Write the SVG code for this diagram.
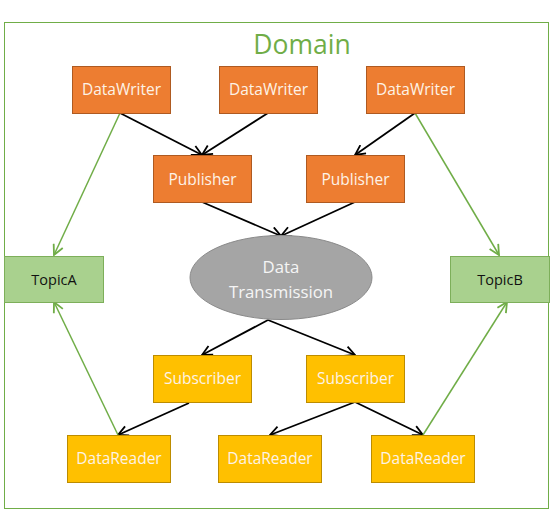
<svg xmlns="http://www.w3.org/2000/svg" width="554" height="524" viewBox="0 0 554 524">
<defs>
<marker id="ab" viewBox="0 0 12 12" refX="11" refY="6" markerWidth="12" markerHeight="12" markerUnits="userSpaceOnUse" orient="auto">
<path d="M1,1 L11,6 L1,11" fill="none" stroke="#000" stroke-width="1.8"/>
</marker>
<marker id="ag" viewBox="0 0 12 12" refX="11" refY="6" markerWidth="12" markerHeight="12" markerUnits="userSpaceOnUse" orient="auto">
<path d="M1,1 L11,6 L1,11" fill="none" stroke="#70AD47" stroke-width="1.8"/>
</marker>
<style>
.w rect{fill:#ED7D31;stroke:#AE5A21;stroke-width:1}
.s rect{fill:#FFC000;stroke:#BC8C00;stroke-width:1}
.t rect{fill:#A9D18E;stroke:#7DAF5A;stroke-width:1}
text{font-family:"Open Sans","Liberation Sans",sans-serif;font-size:15.5px;text-anchor:middle}
.w text,.s text{fill:#FDF3E7}
.t text{fill:#111;font-size:14.5px}
.b{stroke:#000;stroke-width:1.8;fill:none;marker-end:url(#ab)}
.g{stroke:#70AD47;stroke-width:1.5;fill:none;marker-end:url(#ag)}
</style>
</defs>
<rect width="554" height="524" fill="#fff"/>
<g id="domain">
<rect x="4.5" y="22.5" width="544" height="486" fill="none" stroke="#70AD47" stroke-width="1"/>
<text x="302" y="54" style="font-size:26.5px;fill:#70AD47">Domain</text>
</g>
<g id="connectors">
<line class="b" x1="120" y1="113" x2="202" y2="155"/>
<line class="b" x1="268" y1="113" x2="202" y2="155"/>
<line class="b" x1="415" y1="113" x2="355" y2="155"/>
<line class="b" x1="202" y1="202" x2="281" y2="236"/>
<line class="b" x1="355" y1="202" x2="281" y2="236"/>
<line class="b" x1="268" y1="320" x2="202" y2="355"/>
<line class="b" x1="268" y1="320" x2="355" y2="355"/>
<line class="b" x1="189" y1="403" x2="118" y2="435"/>
<line class="b" x1="355" y1="402" x2="270" y2="435"/>
<line class="b" x1="355" y1="402" x2="423" y2="435"/>
<line class="g" x1="120" y1="113" x2="54" y2="255"/>
<line class="g" x1="118" y1="435" x2="54" y2="302"/>
<line class="g" x1="415" y1="113" x2="499" y2="255"/>
<line class="g" x1="423" y1="435" x2="507" y2="302"/>
</g>
<g id="dw1" class="w"><rect x="72.5" y="66.5" width="98" height="47"/><text x="121.5" y="95">DataWriter</text></g>
<g id="dw2" class="w"><rect x="219.5" y="66.5" width="98" height="47"/><text x="268.5" y="95">DataWriter</text></g>
<g id="dw3" class="w"><rect x="366.5" y="66.5" width="98" height="47"/><text x="415.5" y="95">DataWriter</text></g>
<g id="pub1" class="w"><rect x="153.5" y="155.5" width="98" height="47"/><text x="202.5" y="185">Publisher</text></g>
<g id="pub2" class="w"><rect x="306.5" y="155.5" width="98" height="47"/><text x="355.5" y="185">Publisher</text></g>
<g id="data">
<ellipse cx="281" cy="277.5" rx="91" ry="42" fill="#A5A5A5" stroke="#8A8A8A" stroke-width="1"/>
<text x="281" y="273" style="fill:#F5F5F5;font-size:16.8px">Data</text>
<text x="281" y="298" style="fill:#F5F5F5;font-size:16.8px">Transmission</text>
</g>
<g id="topicA" class="t"><rect x="4.5" y="256.5" width="99" height="46"/><text x="54" y="285">TopicA</text></g>
<g id="topicB" class="t"><rect x="450.5" y="256.5" width="99" height="46"/><text x="500" y="285">TopicB</text></g>
<g id="sub1" class="s"><rect x="153.5" y="355.5" width="98" height="47"/><text x="202.5" y="384">Subscriber</text></g>
<g id="sub2" class="s"><rect x="306.5" y="355.5" width="98" height="47"/><text x="355.5" y="384">Subscriber</text></g>
<g id="dr1" class="s"><rect x="67.5" y="435.5" width="103" height="47"/><text x="119" y="464">DataReader</text></g>
<g id="dr2" class="s"><rect x="218.5" y="435.5" width="103" height="47"/><text x="270" y="464">DataReader</text></g>
<g id="dr3" class="s"><rect x="371.5" y="435.5" width="103" height="47"/><text x="423" y="464">DataReader</text></g>
</svg>
